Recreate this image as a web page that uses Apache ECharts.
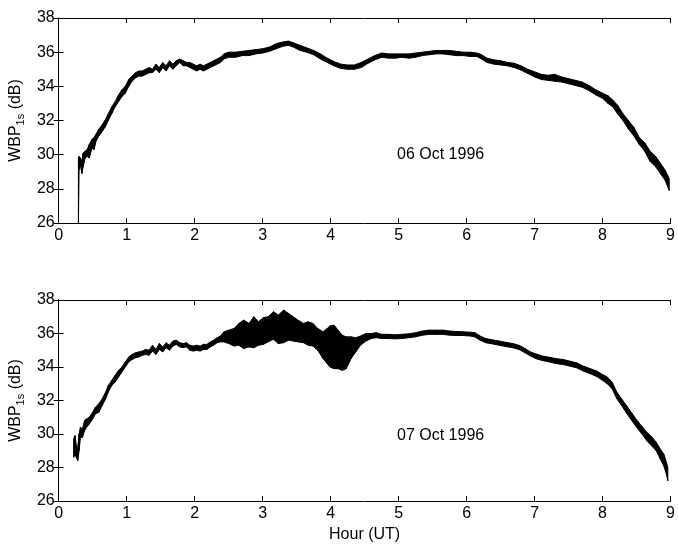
<!DOCTYPE html>
<html>
<head>
<meta charset="utf-8">
<script src="https://cdn.jsdelivr.net/npm/echarts@6/dist/echarts.min.js"></script>
<style>
  html, body { margin: 0; padding: 0; background: #fff; }
  #chart { width: 678px; height: 544px; }
</style>
</head>
<body>
<div id="chart"></div>
<script>
// hour (UT), lower and upper edge of the noisy trace (dB)
const hours06 = [0.29,0.30,0.32,0.34,0.36,0.39,0.42,0.45,0.49,0.52,0.55,0.59,0.63,0.68,0.73,0.78,0.83,0.88,0.93,0.98,
  1.03,1.08,1.13,1.18,1.23,1.28,1.33,1.38,1.43,1.48,1.53,1.58,1.63,1.68,1.73,1.78,1.83,1.88,1.93,1.98,
  2.03,2.08,2.13,2.18,2.23,2.28,2.33,2.38,2.43,2.50,2.60,2.70,2.80,2.90,3.00,3.10,3.20,3.30,3.38,3.45,
  3.55,3.65,3.75,3.85,3.95,4.05,4.15,4.25,4.35,4.45,4.55,4.65,4.75,4.85,4.95,5.05,5.15,5.25,5.35,5.45,
  5.55,5.65,5.75,5.85,5.95,6.05,6.15,6.22,6.30,6.40,6.50,6.60,6.70,6.80,6.90,7.00,7.10,7.20,7.30,7.40,
  7.50,7.60,7.70,7.80,7.90,8.00,8.08,8.15,8.22,8.30,8.38,8.46,8.54,8.62,8.70,8.78,8.85,8.92,8.98];
const low06 = [26.0,29.1,29.4,28.9,29.3,29.8,29.9,29.8,30.4,30.3,30.8,31.1,31.3,31.6,32.0,32.4,32.8,33.1,33.4,33.6,
  34.0,34.3,34.5,34.6,34.6,34.7,34.8,34.8,35.0,34.8,35.1,34.9,35.2,35.0,35.2,35.4,35.2,35.2,35.1,35.0,
  34.9,35.0,34.9,35.0,35.1,35.2,35.3,35.4,35.6,35.7,35.7,35.8,35.8,35.9,35.95,36.05,36.2,36.35,36.4,36.3,
  36.1,36.0,35.85,35.6,35.4,35.2,35.05,35.0,35.0,35.1,35.35,35.55,35.7,35.65,35.65,35.7,35.65,35.7,35.8,35.85,
  35.9,35.9,35.85,35.8,35.8,35.75,35.75,35.6,35.4,35.3,35.25,35.2,35.1,34.95,34.75,34.55,34.4,34.35,34.3,34.25,
  34.15,34.05,33.95,33.75,33.5,33.3,33.0,32.8,32.4,32.0,31.5,31.1,30.6,30.2,29.6,29.3,28.9,28.5,27.9];
const high06 = [29.8,29.9,29.8,29.6,30.1,30.2,30.3,30.6,30.9,31.0,31.2,31.5,31.7,32.0,32.4,32.8,33.1,33.5,33.8,34.0,
  34.4,34.6,34.8,34.9,34.9,35.0,35.1,35.0,35.3,35.1,35.4,35.2,35.5,35.3,35.5,35.6,35.5,35.4,35.4,35.3,
  35.2,35.3,35.2,35.3,35.4,35.5,35.6,35.7,35.9,36.0,36.0,36.05,36.1,36.15,36.2,36.3,36.5,36.6,36.65,36.55,
  36.4,36.25,36.1,35.9,35.65,35.45,35.3,35.25,35.25,35.4,35.6,35.8,35.95,35.9,35.9,35.9,35.9,35.95,36.0,36.05,
  36.1,36.1,36.1,36.05,36.0,36.0,35.95,35.85,35.65,35.55,35.5,35.4,35.35,35.2,35.0,34.85,34.7,34.65,34.7,34.55,
  34.45,34.35,34.25,34.05,33.8,33.6,33.45,33.2,32.9,32.4,32.0,31.6,31.0,30.7,30.2,29.9,29.5,29.1,28.6];

const hours07 = [0.22,0.24,0.26,0.28,0.30,0.32,0.35,0.38,0.41,0.45,0.50,0.54,0.59,0.64,0.69,0.73,0.78,0.83,0.88,0.93,
  0.98,1.03,1.08,1.13,1.18,1.23,1.28,1.33,1.38,1.43,1.48,1.53,1.58,1.63,1.68,1.73,1.78,1.83,1.88,1.93,
  1.98,2.03,2.08,2.13,2.18,2.23,2.28,2.33,2.38,2.43,2.50,2.58,2.65,2.72,2.80,2.87,2.94,3.01,3.08,3.16,
  3.23,3.31,3.38,3.45,3.52,3.60,3.67,3.74,3.81,3.89,3.95,3.99,4.05,4.11,4.17,4.23,4.30,4.37,4.44,4.52,
  4.60,4.67,4.75,4.85,4.95,5.05,5.15,5.25,5.35,5.45,5.55,5.65,5.75,5.85,5.95,6.05,6.12,6.20,6.28,6.38,
  6.48,6.58,6.68,6.78,6.86,6.94,7.02,7.12,7.22,7.32,7.42,7.52,7.62,7.72,7.82,7.92,8.00,8.07,8.14,8.21,
  8.28,8.36,8.43,8.50,8.58,8.65,8.72,8.79,8.85,8.90,8.94,8.96];
const low07 = [28.6,28.8,28.6,28.4,29.0,29.8,29.8,30.2,30.4,30.6,30.9,31.2,31.3,31.7,32.1,32.5,32.9,33.1,33.4,33.7,
  34.0,34.3,34.45,34.55,34.6,34.7,34.75,34.7,34.95,34.75,35.05,34.9,35.15,35.0,35.25,35.35,35.2,35.15,35.2,35.0,
  34.95,35.0,34.95,35.05,35.05,35.2,35.3,35.45,35.5,35.5,35.4,35.25,35.3,35.1,35.2,35.15,35.3,35.35,35.5,35.65,
  35.4,35.45,35.6,35.55,35.5,35.45,35.3,35.25,35.0,34.5,34.2,34.0,33.9,33.9,33.8,33.9,34.5,34.9,35.3,35.55,
  35.7,35.75,35.7,35.7,35.68,35.7,35.75,35.8,35.9,35.95,35.95,35.95,35.9,35.88,35.88,35.85,35.8,35.6,35.45,35.38,
  35.3,35.22,35.15,35.03,34.85,34.65,34.5,34.38,34.3,34.2,34.15,34.05,33.95,33.75,33.6,33.42,33.2,33.0,32.7,32.1,
  31.7,31.2,30.8,30.4,30.0,29.6,29.3,29.0,28.5,28.1,27.6,27.2];
const high07 = [29.7,29.9,29.3,29.2,30.0,30.4,30.3,30.8,30.9,31.0,31.3,31.6,31.8,32.1,32.5,32.9,33.2,33.5,33.8,34.0,
  34.3,34.6,34.75,34.85,34.9,34.95,35.05,35.0,35.3,35.05,35.4,35.2,35.45,35.3,35.55,35.6,35.45,35.4,35.45,35.3,
  35.25,35.3,35.25,35.35,35.35,35.5,35.6,35.75,35.85,36.1,36.2,36.3,36.6,36.8,36.6,37.0,36.7,36.95,37.0,37.3,
  37.1,37.4,37.2,37.0,36.8,36.6,36.7,36.6,36.3,36.1,36.3,36.45,36.5,36.2,35.9,35.8,35.8,35.75,35.85,36.0,
  36.0,36.05,35.95,35.95,35.92,35.95,35.98,36.05,36.15,36.2,36.2,36.2,36.15,36.12,36.1,36.08,36.05,35.85,35.7,35.62,
  35.55,35.47,35.4,35.28,35.1,34.9,34.78,34.65,34.58,34.5,34.45,34.35,34.25,34.05,33.9,33.75,33.55,33.4,33.1,32.5,
  32.1,31.65,31.25,30.85,30.45,30.1,29.85,29.5,29.1,28.8,28.3,28.0];

const xTicks = [0, 1, 2, 3, 4, 5, 6, 7, 8, 9];
const yTicks = [26, 28, 30, 32, 34, 36, 38];
const dayLabels = ['06 Oct 1996', '07 Oct 1996'];

const FONT = '"Liberation Sans", Arial, sans-serif';
const grids = [
  { left: 53, top: 18, width: 618, height: 205 },
  { left: 53, top: 300, width: 618, height: 204 }
];

function xAxes(gi, withName) {
  const base = {
    type: 'value', gridIndex: gi, min: xTicks[0], max: xTicks[xTicks.length - 1], interval: 1,
    splitLine: { show: false },
    axisLine: { lineStyle: { color: '#000', width: 1 } },
    axisTick: { inside: true, length: 5, lineStyle: { color: '#000' } }
  };
  return [
    Object.assign({}, base, {
      position: 'bottom',
      axisLabel: { color: '#000', fontSize: 16, fontFamily: FONT, margin: 5 },
      name: withName ? 'Hour (UT)' : '',
      nameLocation: 'middle', nameGap: 26,
      nameTextStyle: { color: '#000', fontSize: 16, fontFamily: FONT }
    }),
    Object.assign({}, base, { position: 'top', axisLabel: { show: false } })
  ];
}

function yAxes(gi) {
  const base = {
    type: 'value', gridIndex: gi, min: yTicks[0], max: yTicks[yTicks.length - 1], interval: 2,
    splitLine: { show: false },
    axisLine: { show: true, lineStyle: { color: '#000', width: 1 } },
    axisTick: { show: true, inside: true, length: 5, lineStyle: { color: '#000' } }
  };
  return [
    Object.assign({}, base, {
      position: 'left',
      axisLabel: { color: '#000', fontSize: 16, fontFamily: FONT, margin: 4 },
      name: '{b|WBP}{s|1s}{b| (dB)}',
      nameLocation: 'middle', nameGap: 26, nameRotate: 90,
      nameTextStyle: {
        color: '#000', fontFamily: FONT,
        rich: {
          b: { fontSize: 16, lineHeight: 20, fontFamily: FONT, color: '#000' },
          s: { fontSize: 11, lineHeight: 11, verticalAlign: 'bottom', fontFamily: FONT, color: '#000' }
        }
      }
    }),
    Object.assign({}, base, { position: 'right', axisLabel: { show: false } })
  ];
}

// filled band between lower and upper edges: one quad per pair of neighbouring samples
function bandSeries(gi, hrs, lo, hi) {
  const n = hrs.length;
  return {
    type: 'custom', xAxisIndex: gi * 2, yAxisIndex: gi * 2,
    animation: false, silent: true, clip: true,
    encode: { x: 0, y: [1, 2] },
    data: hrs.map((h, i) => [h, lo[i], hi[i]]),
    renderItem: function (params, api) {
      const i = params.dataIndexInside;
      if (i >= n - 1) return null;
      const a0 = api.coord([api.value(0, i), api.value(1, i)]);
      const a1 = api.coord([api.value(0, i + 1), api.value(1, i + 1)]);
      const b1 = api.coord([api.value(0, i + 1), api.value(2, i + 1)]);
      const b0 = api.coord([api.value(0, i), api.value(2, i)]);
      return {
        type: 'polygon',
        shape: { points: [a0, a1, b1, b0] },
        style: { fill: '#000', stroke: '#000', lineWidth: 1 }
      };
    }
  };
}

const chart = echarts.init(document.getElementById('chart'), null, { renderer: 'canvas' });
chart.setOption({
  backgroundColor: '#fff',
  animation: false,
  grid: grids,
  xAxis: [...xAxes(0, false), ...xAxes(1, true)],
  yAxis: [...yAxes(0), ...yAxes(1)],
  series: [
    bandSeries(0, hours06, low06, high06),
    bandSeries(1, hours07, low07, high07)
  ],
  graphic: [
    { type: 'text', left: 397, top: 147, style: { text: dayLabels[0], fontSize: 16, fontFamily: FONT, fill: '#000' } },
    { type: 'text', left: 397, top: 428, style: { text: dayLabels[1], fontSize: 16, fontFamily: FONT, fill: '#000' } }
  ]
});
</script>
</body>
</html>
